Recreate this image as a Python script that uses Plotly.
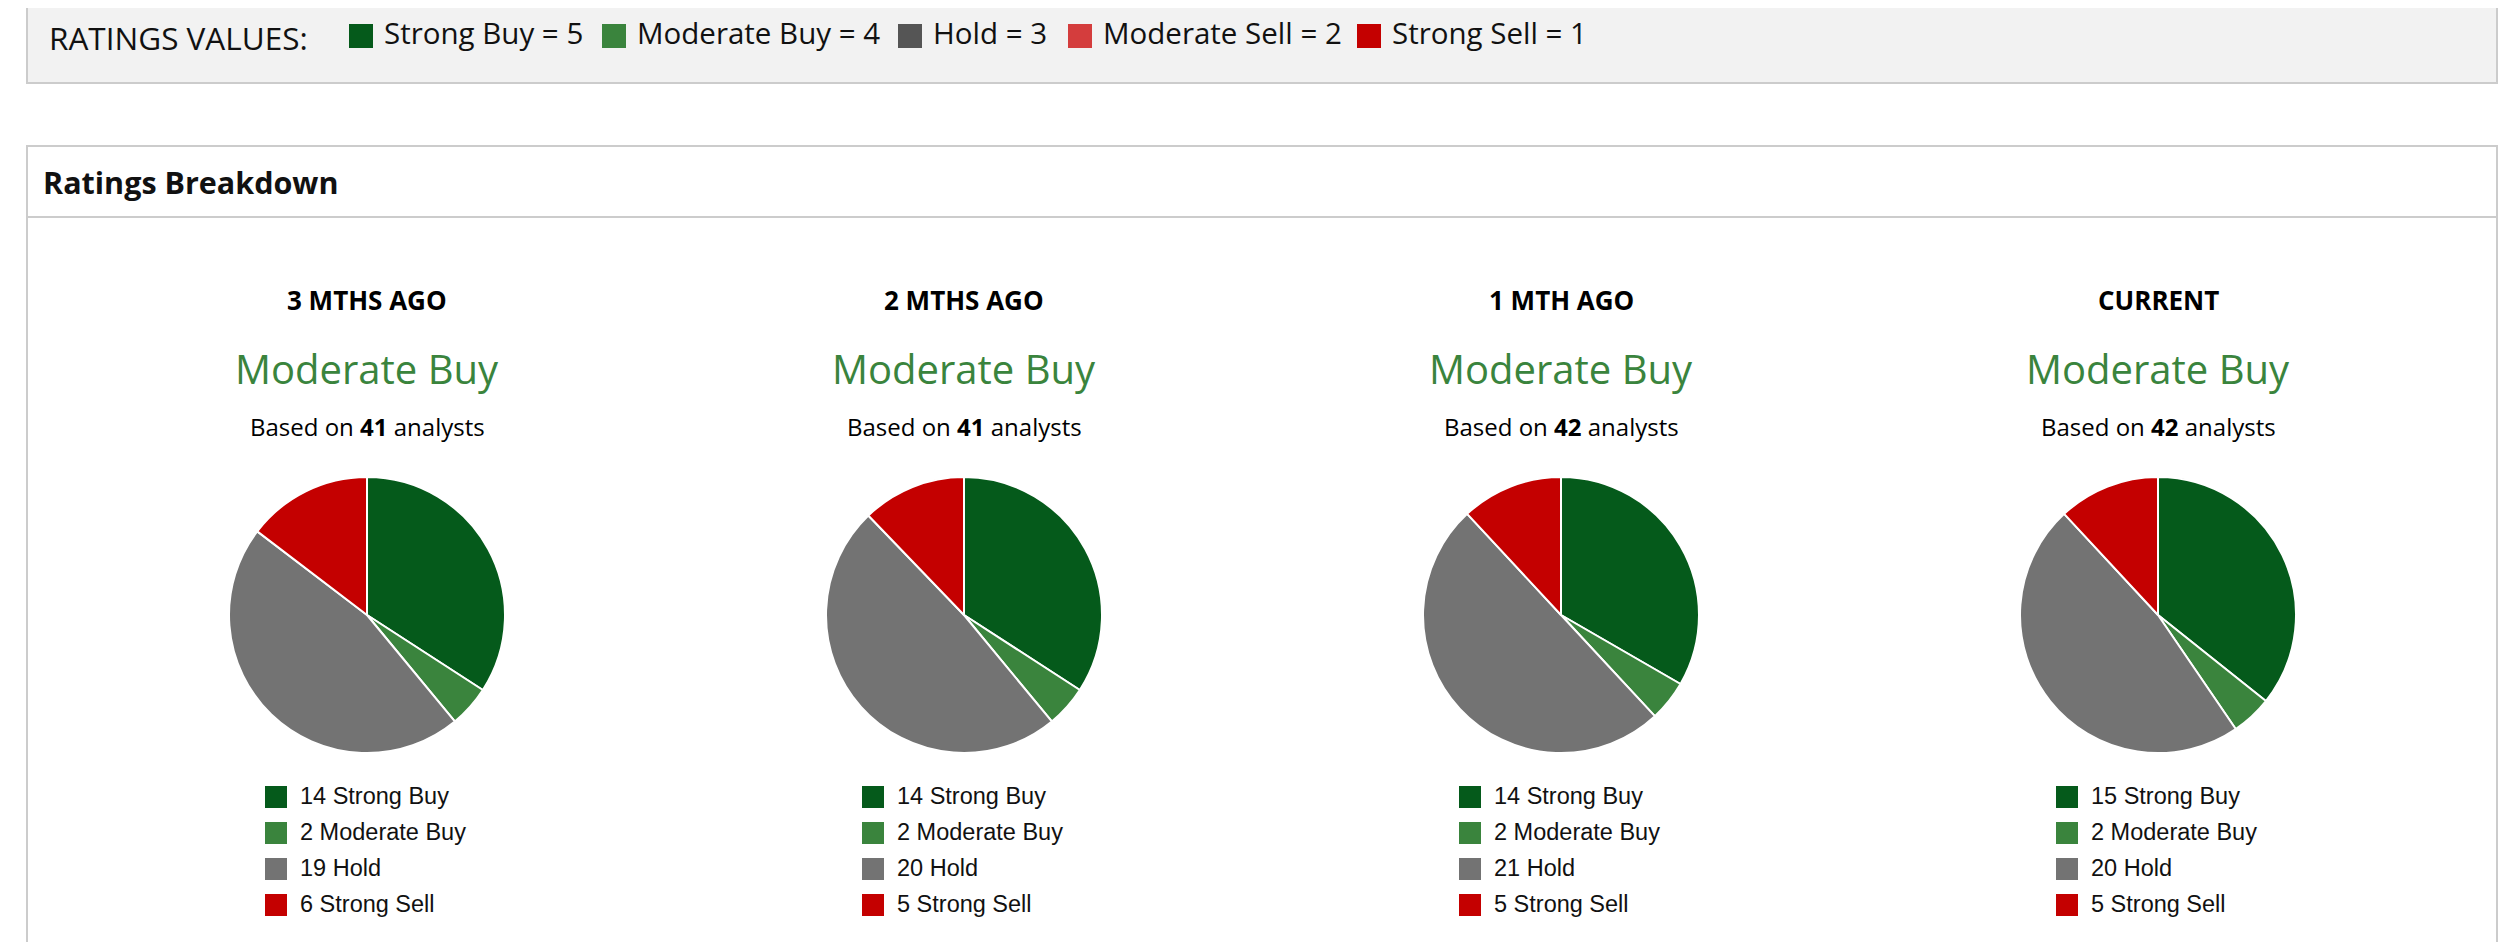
import plotly.graph_objects as go

# page is 2510x950, the html body keeps an 8px margin
PAGE_W, PAGE_H, OFF = 2510, 950, 8
W, H = PAGE_W - 2 * OFF, PAGE_H - 2 * OFF

# ratings key shown in the grey box
KEY_LABELS = ["Strong Buy = 5", "Moderate Buy = 4", "Hold = 3", "Moderate Sell = 2", "Strong Sell = 1"]
KEY_COLORS = ["#055a1b", "#3a843d", "#555555", "#d43d3d", "#c40000"]

# ratings breakdown per period
PERIODS = ["3 MTHS AGO", "2 MTHS AGO", "1 MTH AGO", "CURRENT"]
CONSENSUS = ["Moderate Buy", "Moderate Buy", "Moderate Buy", "Moderate Buy"]
ANALYSTS = [41, 41, 42, 42]

RATINGS = ["Strong Buy", "Moderate Buy", "Hold", "Moderate Sell", "Strong Sell"]
STRONG_BUY = [14, 14, 14, 15]
MODERATE_BUY = [2, 2, 2, 2]
HOLD = [19, 20, 21, 20]
MODERATE_SELL = [0, 0, 0, 0]
STRONG_SELL = [6, 5, 5, 5]
PIE_COLORS = ["#055a1b", "#3a843d", "#737373", "#d43d3d", "#c40000"]

# layout (page pixels)
KEY_X = [349, 602, 898, 1068, 1357]
COL_X = [367, 964, 1561, 2158]
PIE_CY, PIE_R = 615, 138
LEG_Y0, LEG_DY = 797, 36

HEAD_FONT = "Open Sans, Noto Sans, sans-serif"
LEG_FONT = "Liberation Sans, Arial, sans-serif"


def px(x):
    return (x - OFF) / W


def py(y):
    return 1 - (y - OFF) / H


fig = go.Figure()

# key squares + labels (overlay axis in page pixels)
fig.add_trace(go.Scatter(
    x=[k + 12 for k in KEY_X], y=[36] * len(KEY_X),
    mode="markers", marker=dict(symbol="square", size=24, color=KEY_COLORS),
    hoverinfo="skip", showlegend=False,
))
fig.add_trace(go.Scatter(
    x=[k + 35 for k in KEY_X], y=[37] * len(KEY_X),
    mode="text", text=KEY_LABELS, textposition="middle right",
    textfont=dict(family=HEAD_FONT, size=29.5, color="#111111"),
    hoverinfo="skip", showlegend=False,
))

annotations = [
    dict(x=px(47), y=py(37), text="RATINGS VALUES:",
         xanchor="left", yanchor="middle",
         font=dict(family=HEAD_FONT, size=31.5, color="#111111")),
    dict(x=px(41), y=py(182), text="<b>Ratings Breakdown</b>",
         xanchor="left", yanchor="middle",
         font=dict(family=HEAD_FONT, size=30.5, color="#111111")),
]

for i, period in enumerate(PERIODS):
    cx = COL_X[i]
    counts = [STRONG_BUY[i], MODERATE_BUY[i], HOLD[i], MODERATE_SELL[i], STRONG_SELL[i]]
    keep = [j for j, c in enumerate(counts) if c > 0]
    labels = [RATINGS[j] for j in keep]
    values = [counts[j] for j in keep]
    colors = [PIE_COLORS[j] for j in keep]

    fig.add_trace(go.Pie(
        labels=labels, values=values, sort=False, direction="clockwise", rotation=0,
        marker=dict(colors=colors, line=dict(color="#ffffff", width=2)),
        textinfo="none", hoverinfo="label+value", showlegend=False,
        domain=dict(x=[px(cx - PIE_R), px(cx + PIE_R)], y=[py(PIE_CY + PIE_R), py(PIE_CY - PIE_R)]),
    ))

    rows = list(range(len(values)))
    fig.add_trace(go.Scatter(
        x=[cx - 91] * len(rows), y=[LEG_Y0 + LEG_DY * r for r in rows],
        mode="markers", marker=dict(symbol="square", size=22, color=colors),
        hoverinfo="skip", showlegend=False,
    ))
    fig.add_trace(go.Scatter(
        x=[cx - 67] * len(rows), y=[LEG_Y0 + 1 + LEG_DY * r for r in rows],
        mode="text", text=[f"{v} {l}" for v, l in zip(values, labels)],
        textposition="middle right",
        textfont=dict(family=LEG_FONT, size=23.5, color="#111111"),
        hoverinfo="skip", showlegend=False,
    ))

    annotations += [
        dict(x=px(cx), y=py(300), text=f"<b>{period}</b>",
             xanchor="center", yanchor="middle",
             font=dict(family=HEAD_FONT, size=26, color="#000000")),
        dict(x=px(cx), y=py(368), text=CONSENSUS[i],
             xanchor="center", yanchor="middle",
             font=dict(family=HEAD_FONT, size=40, color="#3a843d")),
        dict(x=px(cx), y=py(426), text=f"Based on <b>{ANALYSTS[i]}</b> analysts",
             xanchor="center", yanchor="middle",
             font=dict(family=HEAD_FONT, size=24, color="#000000")),
    ]

for a in annotations:
    a.update(xref="paper", yref="paper", showarrow=False)

shapes = [
    # grey key box
    dict(type="rect", x0=px(27), x1=px(2497), y0=py(83), y1=py(-4),
         fillcolor="#f2f2f2", line=dict(color="#cccccc", width=2), layer="below"),
    # breakdown panel
    dict(type="rect", x0=px(27), x1=px(2497), y0=py(970), y1=py(146),
         fillcolor="#ffffff", line=dict(color="#cccccc", width=2), layer="below"),
    dict(type="line", x0=px(27), x1=px(2497), y0=py(217), y1=py(217),
         line=dict(color="#cccccc", width=2), layer="below"),
]
for s in shapes:
    s.update(xref="paper", yref="paper")

fig.update_layout(
    width=W, height=H,
    margin=dict(l=0, r=0, t=0, b=0),
    paper_bgcolor="#ffffff", plot_bgcolor="rgba(0,0,0,0)",
    xaxis=dict(range=[OFF, OFF + W], visible=False, fixedrange=True, domain=[0, 1]),
    yaxis=dict(range=[OFF + H, OFF], visible=False, fixedrange=True, domain=[0, 1]),
    annotations=annotations,
    shapes=shapes,
    showlegend=False,
)

fig.write_html("out.html")
